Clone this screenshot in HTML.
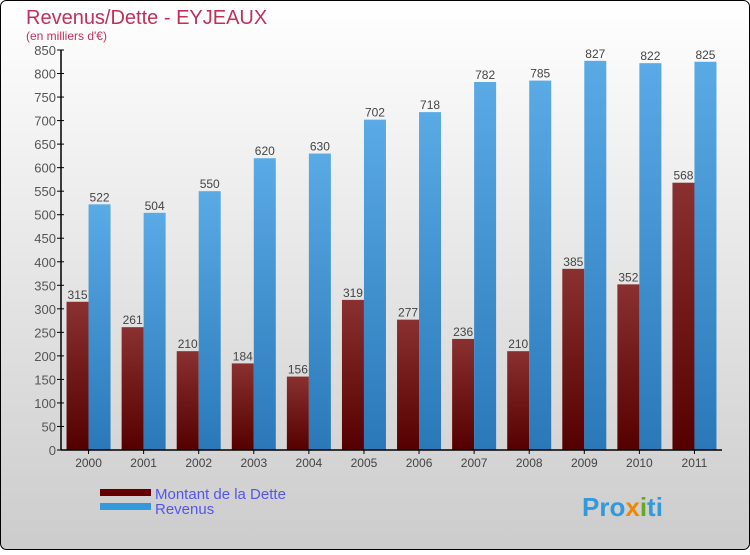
<!DOCTYPE html>
<html><head><meta charset="utf-8"><style>
body{margin:0}
svg text{font-family:"Liberation Sans",sans-serif}
</style></head><body>
<svg id="c" width="750" height="550" xmlns="http://www.w3.org/2000/svg">
<defs>
<linearGradient id="bg" x1="0" y1="0" x2="0" y2="1"><stop offset="0" stop-color="#ffffff"/><stop offset="1" stop-color="#cccccc"/></linearGradient>
<linearGradient id="gd" x1="0" y1="0" x2="0" y2="1"><stop offset="0" stop-color="#8a3030"/><stop offset="1" stop-color="#550000"/></linearGradient>
<linearGradient id="gr" x1="0" y1="0" x2="0" y2="1"><stop offset="0" stop-color="#5aaae6"/><stop offset="1" stop-color="#2a78b8"/></linearGradient>
</defs>
<rect x="0.5" y="0.5" width="749" height="549" rx="6" fill="url(#bg)" stroke="#000"/>
<text x="26" y="24" font-size="20" fill="#c0305a">Revenus/Dette - EYJEAUX</text>
<text x="26" y="40" font-size="12" fill="#c0305a">(en milliers d'€)</text>
<g id="plot"></g>
<rect x="100" y="489" width="51" height="7" fill="#660000"/>
<rect x="100" y="503" width="51" height="7" fill="#3399dd"/>
<text x="155" y="499" font-size="15" fill="#5555ee">Montant de la Dette</text>
<text x="155" y="514" font-size="15" fill="#5555ee">Revenus</text>
<text x="582" y="516" font-size="26" font-weight="bold" fill="#3399dd">Pro<tspan fill="#ee8800">x</tspan><tspan fill="#66aa22">i</tspan>ti</text>
</svg>
<script>
const years=["2000","2001","2002","2003","2004","2005","2006","2007","2008","2009","2010","2011"];
const dette=[315,261,210,184,156,319,277,236,210,385,352,568];
const revenus=[522,504,550,620,630,702,718,782,785,827,822,825];
const ticks=[0,50,100,150,200,250,300,350,400,450,500,550,600,650,700,750,800,850];
const NS="http://www.w3.org/2000/svg";
const g=document.getElementById('plot');
const x0=61,x1=722,y0=450,y1=50,vmax=850;
const y=v=>y0-(y0-y1)*v/vmax;
const cw=(x1-x0)/years.length;
const cx=i=>x0+cw*(i+0.5);
function el(t,a){const e=document.createElementNS(NS,t);for(const k in a)e.setAttribute(k,a[k]);g.appendChild(e);return e;}
ticks.forEach(t=>{
 const l=el('line',{x1:x0-4,x2:x0+3,y1:y(t),y2:y(t),stroke:'#000'});
 
 
 const tx=el('text',{x:x0-5,y:y(t)+5,'font-size':13,fill:'#555','text-anchor':'end'});
 tx.textContent=t;
 
 
});
years.forEach((yr,i)=>{
 const c=cx(i);
 const bd=el('rect',{x:c-22,y:y(dette[i]),width:22,height:y0-y(dette[i]),fill:'url(#gd)'});
 
 
 const br=el('rect',{x:c,y:y(revenus[i]),width:22,height:y0-y(revenus[i]),fill:'url(#gr)'});
 
 
 const ld=el('text',{x:c-11,y:y(dette[i])-3,'font-size':12,fill:'#444','text-anchor':'middle'});
 ld.textContent=dette[i];
 
 
 const lr=el('text',{x:c+11,y:y(revenus[i])-3,'font-size':12,fill:'#444','text-anchor':'middle'});
 lr.textContent=revenus[i];
 
 
 const tk=el('line',{x1:c,x2:c,y1:y0,y2:y0+4,stroke:'#000'});
 
 
 const xl=el('text',{x:c,y:y0+17,'font-size':12,fill:'#444','text-anchor':'middle'});
 xl.textContent=yr;
 
 
});
const ya=el('line',{x1:x0,x2:x0,y1:y1,y2:y0,stroke:'#000','stroke-width':1.5});


const xa=el('line',{x1:x0,x2:x1,y1:y0,y2:y0,stroke:'#000','stroke-width':1.5});


</script>
</body></html>
